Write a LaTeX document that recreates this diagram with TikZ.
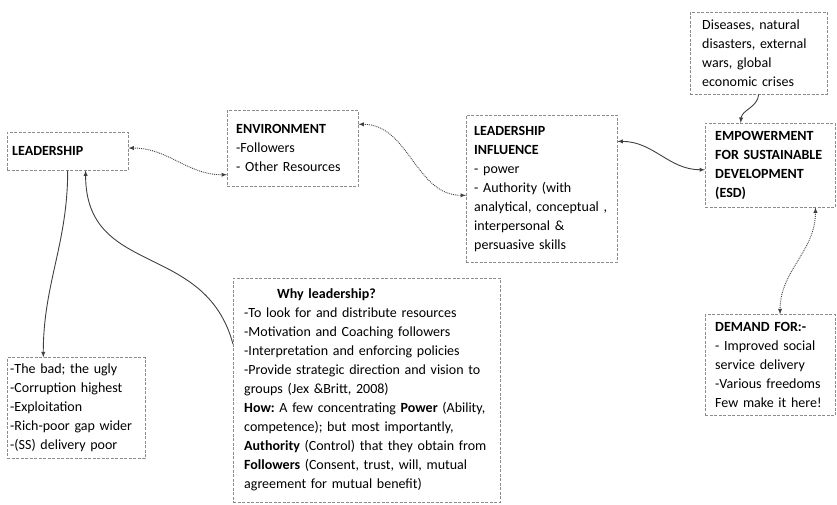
\documentclass[tikz,border=0pt]{standalone}
\usepackage{fontspec}
\setmainfont{Carlito}
\frenchspacing
\usetikzlibrary{positioning}
\usetikzlibrary{arrows}
\tikzset{panel/.style={%
        rectangle,
        anchor=north west,
        align=left,
        inner ysep=0pt,
        draw=black!45,
        dash pattern=on 3pt off 1.5pt,
        text=black,
        font=\fontsize{14}{19}\selectfont
    },
    link/.style={line width=0.9pt, draw=black!75, >=latex}}

\begin{document}
\begin{tikzpicture}[x=1pt,y=1pt]
    \useasboundingbox (0,0) rectangle (837,-505);
    \node [panel, inner xsep=5pt, text width=111pt, minimum height=38pt] (lead) at (7,-132) {\textbf{LEADERSHIP}};
    \node [panel, inner xsep=9pt, text width=113pt, minimum height=76pt] (env) at (227,-110)
        {\textbf{ENVIRONMENT}\\-Followers\\- Other Resources};
    \node [panel, inner xsep=8pt, text width=135pt, minimum height=147pt] (infl) at (466,-115)
        {\textbf{LEADERSHIP}\\\textbf{INFLUENCE}\\- power\\- Authority (with\\analytical, conceptual ,\\interpersonal \&\\persuasive skills};
    \node [panel, inner xsep=12pt, text width=113pt, minimum height=82pt] (dis) at (690,-12)
        {Diseases, natural\\disasters, external\\wars, global\\economic crises};
    \node [panel, inner xsep=10pt, text width=110pt, minimum height=84pt] (esd) at (705,-123)
        {\textbf{EMPOWERMENT}\\\textbf{FOR SUSTAINABLE}\\\textbf{DEVELOPMENT}\\\textbf{(ESD)}};
    \node [panel, inner xsep=10pt, text width=110pt, minimum height=101pt] (demand) [below=107pt of esd.south west, anchor=north west]
        {\textbf{DEMAND FOR:-}\\- Improved social\\service delivery\\-Various freedoms\\Few make it here!};
    \node [panel, inner xsep=3pt, text width=132pt, minimum height=101pt] (bad) [below=187pt of lead.south west, anchor=north west]
        {-The bad; the ugly\\-Corruption highest\\-Exploitation\\-Rich-poor gap wider\\-(SS) delivery poor};
    \node [panel, inner xsep=11pt, text width=245pt, minimum height=224pt] (why) at (233,-278)
        {\hspace*{33pt}\textbf{Why leadership?}\\-To look for and distribute resources\\-Motivation and Coaching followers\\-Interpretation and enforcing policies\\-Provide strategic direction and vision to\\groups (Jex \&Britt, 2008)\\\textbf{How:} A few concentrating \textbf{Power} (Ability,\\competence); but most importantly,\\\textbf{Authority} (Control) that they obtain from\\\textbf{Followers} (Consent, trust, will, mutual\\agreement for mutual benefit)};
    \draw[link, densely dotted, <->] (lead.3) to[out=0,in=180] (env.202);
    \draw[link, densely dotted, <->] (env.20) to[out=0,in=180] (infl.185);
    \draw[link, <->] (infl.32) to[out=0,in=180] (esd.184);
    \draw[link, ->] (dis.south) to[out=-95,in=85] (esd.125);
    \draw[link, densely dotted, <->] (esd.317) to[out=-90,in=90] (demand.79);
    \draw[link, ->] (lead.south) to[out=-90,in=90] (bad.123);
    \draw[link, ->] (why.161) to[out=105,in=-90,looseness=1.2] (lead.313);
\end{tikzpicture}
\end{document}
